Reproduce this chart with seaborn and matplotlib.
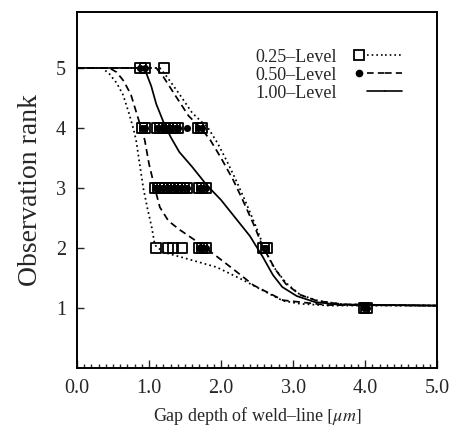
import numpy as np
import pandas as pd
import seaborn as sns
import matplotlib.pyplot as plt
from matplotlib.lines import Line2D
from matplotlib.legend_handler import HandlerTuple
from matplotlib.ticker import MultipleLocator, FormatStrFormatter

# Curves (gap depth, observation rank)
lo25_x = [0.0, 0.35, 0.45, 0.55, 0.64, 0.72, 0.78, 0.82, 0.87, 0.92, 0.98, 1.04, 1.08, 1.2, 1.5, 1.94, 2.3, 2.6, 2.86, 3.1, 3.5, 5.0]
lo25_y = [5.0, 5.0, 4.9, 4.75, 4.55, 4.25, 4.0, 3.8, 3.4, 3.0, 2.65, 2.33, 2.05, 1.93, 1.83, 1.68, 1.47, 1.28, 1.12, 1.07, 1.04, 1.04]

lo50_x = [0.0, 0.45, 0.55, 0.65, 0.75, 0.89, 0.94, 1.0, 1.08, 1.15, 1.27, 1.43, 1.65, 1.94, 2.22, 2.45, 2.86, 3.47, 5.0]
lo50_y = [5.0, 5.0, 4.93, 4.78, 4.55, 4.0, 3.8, 3.4, 3.0, 2.68, 2.45, 2.3, 2.12, 1.86, 1.6, 1.38, 1.13, 1.05, 1.04]

mid_x = [0.0, 0.85, 0.95, 1.03, 1.1, 1.2, 1.3, 1.42, 1.6, 1.8, 2.0, 2.2, 2.4, 2.58, 2.72, 2.85, 3.05, 3.3, 3.6, 5.0]
mid_y = [5.0, 5.0, 4.95, 4.7, 4.4, 4.1, 3.85, 3.6, 3.35, 3.05, 2.8, 2.5, 2.2, 1.85, 1.55, 1.35, 1.2, 1.1, 1.06, 1.04]

hi50_x = [0.0, 1.1, 1.2, 1.36, 1.55, 1.72, 1.85, 2.0, 2.17, 2.3, 2.45, 2.58, 2.75, 2.9, 3.1, 3.33, 3.7, 5.0]
hi50_y = [5.0, 5.0, 4.85, 4.55, 4.2, 4.0, 3.8, 3.5, 3.13, 2.8, 2.4, 2.02, 1.65, 1.4, 1.22, 1.12, 1.06, 1.04]

hi25_x = [0.0, 1.15, 1.25, 1.43, 1.6, 1.82, 1.95, 2.08, 2.2, 2.33, 2.47, 2.6, 2.72, 2.9, 3.1, 3.35, 3.7, 5.0]
hi25_y = [5.0, 5.0, 4.85, 4.55, 4.25, 4.0, 3.75, 3.45, 3.15, 2.8, 2.4, 2.0, 1.7, 1.42, 1.22, 1.12, 1.06, 1.04]

# Observations: open squares and filled dots
sq_x = [0.88, 0.94, 1.21,
        0.90, 0.94, 1.11, 1.16, 1.21, 1.26, 1.31, 1.36, 1.40, 1.68, 1.73,
        1.08, 1.13, 1.18, 1.23, 1.28, 1.33, 1.38, 1.43, 1.48, 1.53, 1.69, 1.74, 1.79,
        1.10, 1.26, 1.33, 1.46, 1.69, 1.74, 1.79, 2.59, 2.63,
        3.98, 4.02]
sq_y = [5, 5, 5,
        4, 4, 4, 4, 4, 4, 4, 4, 4, 4, 4,
        3, 3, 3, 3, 3, 3, 3, 3, 3, 3, 3, 3, 3,
        2, 2, 2, 2, 2, 2, 2, 2, 2,
        1, 1]
dot_x = [0.88, 0.94,
         0.90, 0.94, 1.11, 1.16, 1.21, 1.26, 1.31, 1.36, 1.40, 1.53, 1.68, 1.73,
         1.08, 1.13, 1.18, 1.23, 1.28, 1.33, 1.38, 1.43, 1.48, 1.53, 1.69, 1.74, 1.79,
         1.69, 1.74, 1.79, 2.59, 2.63,
         3.98, 4.02]
dot_y = [5, 5,
         4, 4, 4, 4, 4, 4, 4, 4, 4, 4, 4, 4,
         3, 3, 3, 3, 3, 3, 3, 3, 3, 3, 3, 3, 3,
         2, 2, 2, 2, 2,
         1, 1]

levels = ["0.25\u2013Level", "0.50\u2013Level", "1.00\u2013Level"]
x_ticks = [0, 1, 2, 3, 4, 5]
y_ticks = [1, 2, 3, 4, 5]

sns.set_style("ticks")
plt.rcParams['font.family'] = ['Liberation Serif', 'DejaVu Serif']
plt.rcParams['mathtext.fontset'] = 'stix'

dotted = (0, (1, 1.8))
dashed = (0, (4, 2.5))

fig = plt.figure(figsize=(4.53, 4.34), dpi=100)
ax = fig.add_axes([0.170, 0.152, 0.795, 0.820])

curves = [(lo25_x, lo25_y, dotted), (hi25_x, hi25_y, dotted),
          (lo50_x, lo50_y, dashed), (hi50_x, hi50_y, dashed),
          (mid_x, mid_y, '-')]
for cx, cy, ls in curves:
    sns.lineplot(x=cx, y=cy, ax=ax, color='black', linewidth=1.25,
                 linestyle=ls, estimator=None, sort=False)

sns.scatterplot(x=sq_x, y=sq_y, ax=ax, marker='s', s=55, color='black',
                edgecolor='black', linewidth=1.3, zorder=3)
ax.collections[-1].set_facecolor('none')
sns.scatterplot(x=dot_x, y=dot_y, ax=ax, marker='o', s=26, color='black',
                linewidth=0, zorder=4)

# legend: label on the left, marker then line on the right
blank = Line2D([], [], linestyle='none')
sq_h = Line2D([], [], marker='s', mfc='none', mec='black', mew=1.3, ms=7.5, linestyle='none')
dot_h = Line2D([], [], marker='o', color='black', ms=4.5, linestyle='none')
l25 = Line2D([], [], color='black', lw=1.2, linestyle=dotted)
l50 = Line2D([], [], color='black', lw=1.2, linestyle=dashed)
l100 = Line2D([], [], color='black', lw=1.2, linestyle='-')
handles = [(sq_h, l25, l25), (dot_h, l50, l50), (blank, l100, l100)]
ax.legend(handles, levels, handler_map={tuple: HandlerTuple(ndivide=None, pad=0)},
          markerfirst=False, frameon=False, loc='center right',
          bbox_to_anchor=(0.903, 0.823), borderaxespad=0, borderpad=0,
          handlelength=2.9, handletextpad=0.7, labelspacing=0.05, fontsize=13)

ax.set_xlim(0, 5)
ax.set_ylim(0, 5.93)
ax.set_xticks(x_ticks)
ax.set_yticks(y_ticks)
ax.xaxis.set_minor_locator(MultipleLocator(0.1))
ax.xaxis.set_major_formatter(FormatStrFormatter('%.1f'))
ax.tick_params(axis='both', which='both', direction='in', labelsize=14.5, width=1.0)
ax.tick_params(axis='x', which='major', length=6, pad=8)
ax.tick_params(axis='x', which='minor', length=3)
ax.tick_params(axis='y', which='major', length=5, pad=8)
for sp in ax.spines.values():
    sp.set_linewidth(1.4)
    sp.set_color('black')

ax.set_xlabel('Gap depth of weld\u2013line $[\\mu m]$', fontsize=13, labelpad=5)
ax.set_ylabel('Observation rank', fontsize=20, labelpad=9)

plt.savefig("out.png", dpi=100)
